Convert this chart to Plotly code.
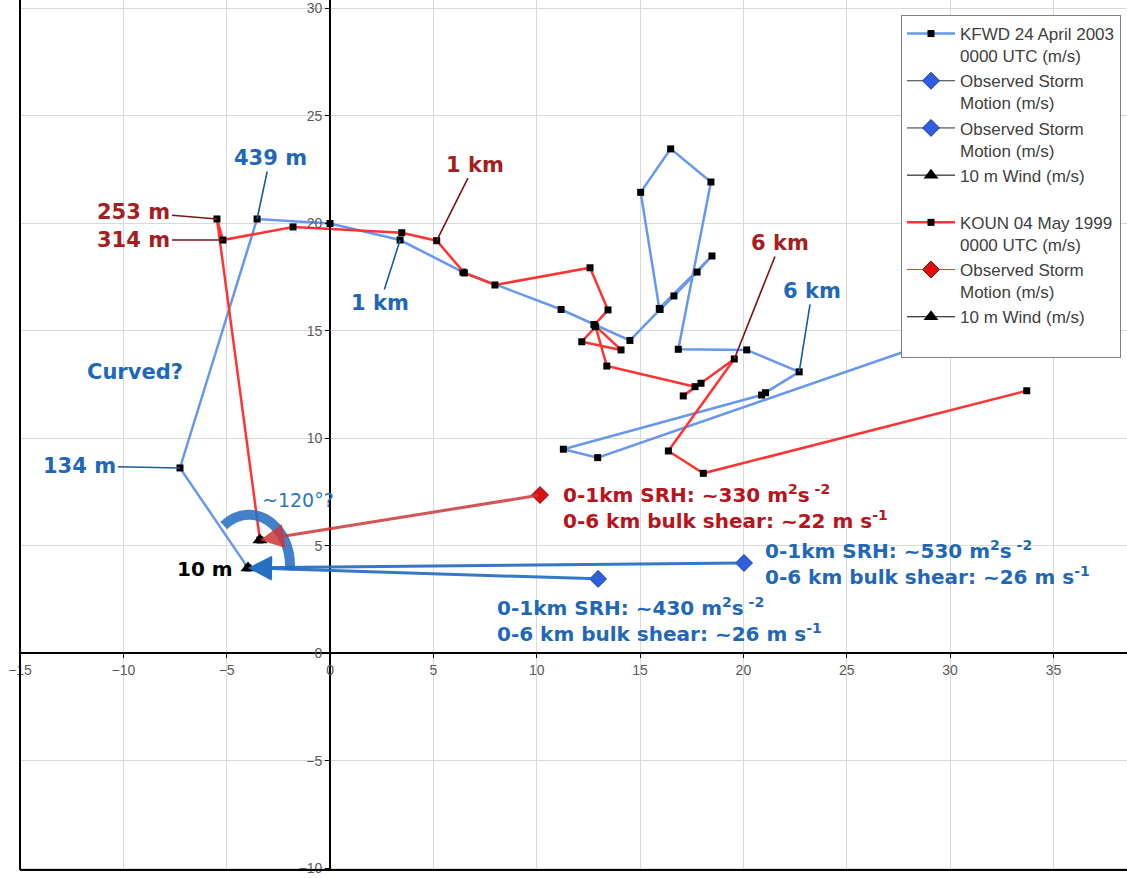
import numpy as np
import plotly.graph_objects as go

# ---------------- data (u, v components in m/s) ----------------
kfwd_u = [-3.97, -7.26, -3.53, 0.00, 3.39, 6.43, 11.18, 12.77, 14.51, 15.97, 16.64, 17.76,
          18.48, 15.93, 15.03, 16.48, 18.43, 16.85, 20.16, 22.70, 21.07, 20.88, 11.29, 12.95, 34.0]
kfwd_v = [3.98, 8.63, 20.21, 20.00, 19.23, 17.74, 16.00, 15.30, 14.56, 16.00, 16.63, 17.74,
          18.49, 16.05, 21.45, 23.47, 21.93, 14.15, 14.12, 13.10, 12.13, 12.02, 9.50, 9.11, 16.1]

koun_u = [-3.39, -5.47, -5.18, -1.79, 3.47, 5.16, 6.50, 7.98, 12.58, 13.45, 12.79, 14.08,
          12.18, 12.85, 13.39, 17.66, 17.09, 17.95, 19.56, 16.37, 18.06, 33.71]
koun_v = [5.28, 20.21, 19.23, 19.84, 19.57, 19.20, 17.70, 17.14, 17.94, 15.98, 15.28, 14.12,
          14.50, 15.20, 13.37, 12.41, 11.98, 12.57, 13.70, 9.42, 8.38, 12.22]

kfwd_storm_a = (20.03, 4.21)
kfwd_storm_b = (12.97, 3.47)
koun_storm = (10.16, 7.37)
kfwd_10m = (-3.97, 3.98)
koun_10m = (-3.39, 5.28)

# height labels: text, u, v, pointer offset (px)
kfwd_labels = [("134 m", -7.26, 8.63, -100, -2), ("439 m", -3.53, 20.21, 13, -61),
               ("1 km", 3.39, 19.23, -20, 63), ("6 km", 22.70, 13.10, 13, -81)]
koun_labels = [("253 m", -5.47, 20.21, -83, -7), ("314 m", -5.18, 19.23, -89, 0),
               ("1 km", 5.16, 19.20, 38, -76), ("6 km", 19.56, 13.70, 46, -116)]

x_ticks = [-15, -10, -5, 0, 5, 10, 15, 20, 25, 30, 35]
y_ticks = [-10, -5, 0, 5, 10, 15, 20, 25, 30]

BLUE_LINE = "#6797EE"
RED_LINE = "#FF3333"
BLUE_TXT = "#1F68B8"
RED_TXT = "#B8141C"
RED_LBL = "#A51E22"
FONT = "Liberation Sans, Arial, sans-serif"
BFONT = "DejaVu Sans, Liberation Sans, sans-serif"

x_range = [-15, 38.56]
y_range = [-10.07, 30.395]

fig = go.Figure()

fig.add_trace(go.Scatter(x=kfwd_u, y=kfwd_v, mode="lines+markers",
                         name="KFWD 24 April 2003<br>0000 UTC (m/s)",
                         line=dict(color=BLUE_LINE, width=2.5),
                         marker=dict(symbol="square", size=7, color="black")))
fig.add_trace(go.Scatter(x=[kfwd_storm_a[0]], y=[kfwd_storm_a[1]], mode="lines+markers",
                         name="Observed Storm<br>Motion (m/s)",
                         line=dict(color="#333333", width=1),
                         marker=dict(symbol="diamond", size=13, color="#2F5FE0",
                                     line=dict(color="#1a3a8a", width=1))))
fig.add_trace(go.Scatter(x=[kfwd_storm_b[0]], y=[kfwd_storm_b[1]], mode="lines+markers",
                         name="Observed Storm<br>Motion (m/s)",
                         line=dict(color="#333333", width=1),
                         marker=dict(symbol="diamond", size=13, color="#2F5FE0",
                                     line=dict(color="#1a3a8a", width=1))))
fig.add_trace(go.Scatter(x=[kfwd_10m[0]], y=[kfwd_10m[1]], mode="lines+markers",
                         name="10 m Wind (m/s)<br>&nbsp;",
                         line=dict(color="black", width=1),
                         marker=dict(symbol="triangle-up", size=13, color="black")))
fig.add_trace(go.Scatter(x=koun_u, y=koun_v, mode="lines+markers",
                         name="KOUN 04 May 1999<br>0000 UTC (m/s)",
                         line=dict(color=RED_LINE, width=2.5),
                         marker=dict(symbol="square", size=7, color="black")))
fig.add_trace(go.Scatter(x=[koun_storm[0]], y=[koun_storm[1]], mode="lines+markers",
                         name="Observed Storm<br>Motion (m/s)",
                         line=dict(color=RED_LINE, width=1),
                         marker=dict(symbol="diamond", size=13, color="#E01010",
                                     line=dict(color="#7a0a0a", width=1))))
fig.add_trace(go.Scatter(x=[koun_10m[0]], y=[koun_10m[1]], mode="lines+markers",
                         name="10 m Wind (m/s)<br>&nbsp;",
                         line=dict(color="black", width=1),
                         marker=dict(symbol="triangle-up", size=13, color="black")))

annotations = []
for txt, u, v, ax, ay in kfwd_labels:
    annotations.append(dict(x=u, y=v, text="<b>%s</b>" % txt, ax=ax, ay=ay, showarrow=True,
                            arrowhead=0, arrowwidth=1.6, arrowcolor="#1A5A9E", standoff=0,
                            font=dict(family=BFONT, size=21, color=BLUE_TXT)))
for txt, u, v, ax, ay in koun_labels:
    annotations.append(dict(x=u, y=v, text="<b>%s</b>" % txt, ax=ax, ay=ay, showarrow=True,
                            arrowhead=0, arrowwidth=1.6, arrowcolor="#7A1414", standoff=0,
                            font=dict(family=BFONT, size=21, color=RED_LBL)))

# storm-relative arrows (storm motion -> 10 m wind)
for (sx, sy), (tx, ty), col in [(koun_storm, koun_10m, "rgba(205,55,55,0.85)"),
                                (kfwd_storm_a, kfwd_10m, "rgba(35,110,195,0.92)"),
                                (kfwd_storm_b, kfwd_10m, "rgba(35,110,195,0.92)")]:
    annotations.append(dict(x=tx, y=ty, ax=sx, ay=sy, axref="x", ayref="y", text="",
                            showarrow=True, arrowhead=2, arrowsize=1.6, arrowwidth=3,
                            arrowcolor=col, standoff=0))

annotations += [
    dict(x=-9.43, y=13.09, text="<b>Curved?</b>", showarrow=False,
         font=dict(family=BFONT, size=21, color=BLUE_TXT)),
    dict(x=-1.55, y=7.14, text="~120°?", showarrow=False,
         font=dict(family=BFONT, size=19, color="#2E74C4")),
    dict(x=-6.05, y=3.93, text="<b>10 m</b>", showarrow=False,
         font=dict(family=BFONT, size=20, color="black")),
    dict(x=11.18, y=6.81, xanchor="left", align="left", showarrow=False,
         text="<b>0-1km SRH: ~330 m<sup>2</sup>s<sup> -2</sup><br>0-6 km bulk shear: ~22 m s<sup>-1</sup></b>",
         font=dict(family=BFONT, size=20, color=RED_TXT)),
    dict(x=20.95, y=4.19, xanchor="left", align="left", showarrow=False,
         text="<b>0-1km SRH: ~530 m<sup>2</sup>s<sup> -2</sup><br>0-6 km bulk shear: ~26 m s<sup>-1</sup></b>",
         font=dict(family=BFONT, size=20, color=BLUE_TXT)),
    dict(x=7.98, y=1.58, xanchor="left", align="left", showarrow=False,
         text="<b>0-1km SRH: ~430 m<sup>2</sup>s<sup> -2</sup><br>0-6 km bulk shear: ~26 m s<sup>-1</sup></b>",
         font=dict(family=BFONT, size=20, color=BLUE_TXT)),
]

# angle arc around the KFWD 10 m wind (drawn in pixel-proportional units)
px_u = 1107 / (x_range[1] - x_range[0])
px_v = 870 / (y_range[1] - y_range[0])
cx, cy = kfwd_10m[0] + 0.05, kfwd_10m[1] + 0.1
ang = np.radians(np.linspace(128, -5, 60))
arc_u = cx + 41 * np.cos(ang) / px_u
arc_v = cy + 51 * np.sin(ang) / px_v
arc_path = "M " + " L ".join("%.4f,%.4f" % (a, b) for a, b in zip(arc_u, arc_v))

shapes = [
    dict(type="path", path=arc_path, xref="x", yref="y",
         line=dict(color="rgba(40,112,195,0.88)", width=10), layer="above"),
    dict(type="line", xref="paper", yref="paper", x0=0, x1=0, y0=0, y1=1,
         line=dict(color="black", width=2)),
    dict(type="line", xref="paper", yref="paper", x0=0, x1=1, y0=0, y1=0,
         line=dict(color="black", width=2)),
]

axis_common = dict(showgrid=True, gridcolor="#D9D9D9", gridwidth=1, zeroline=False,
                   showline=True, linecolor="black", linewidth=2, ticks="outside",
                   ticklen=4, tickcolor="black", tickwidth=1, anchor="free",
                   automargin=False, tickfont=dict(family=FONT, size=14, color="#595959"))

fig.update_layout(
    width=1127, height=878,
    margin=dict(l=20, r=0, t=0, b=8),
    paper_bgcolor="white", plot_bgcolor="white",
    xaxis=dict(range=x_range, tickvals=x_ticks,
               position=(0 - y_range[0]) / (y_range[1] - y_range[0]), **axis_common),
    yaxis=dict(range=y_range, tickvals=y_ticks,
               position=(0 - x_range[0]) / (x_range[1] - x_range[0]), **axis_common),
    showlegend=True,
    legend=dict(x=(901 - 20) / 1107, y=1 - 15 / 870, xanchor="left", yanchor="top",
                bgcolor="white", bordercolor="#808080", borderwidth=1,
                font=dict(family=FONT, size=17, color="#404040"),
                valign="top", itemwidth=48, tracegroupgap=0),
    annotations=annotations,
    shapes=shapes,
)

fig.write_html("out.html")
